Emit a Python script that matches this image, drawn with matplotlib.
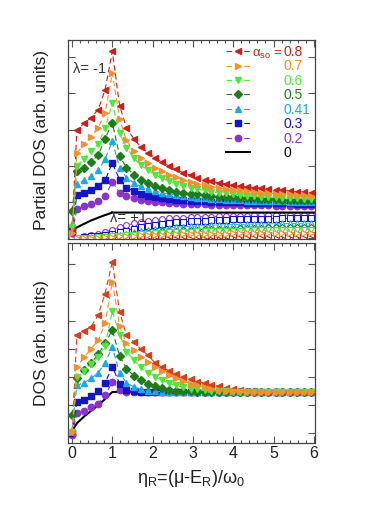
import matplotlib
matplotlib.use("Agg")
import matplotlib.pyplot as plt
from matplotlib.ticker import MultipleLocator

plt.rcParams["font.family"] = ["Liberation Sans", "DejaVu Sans"]
plt.rcParams["mathtext.fontset"] = "custom"
plt.rcParams["mathtext.rm"] = "Liberation Sans"
plt.rcParams["mathtext.it"] = "Liberation Sans"

# eta_R grid shared by all series
X = [0.0, 0.12, 0.30, 0.47, 0.65, 0.82, 1.00, 1.18, 1.35, 1.53, 1.70, 1.88,
     2.06, 2.23, 2.41, 2.58, 2.76, 2.94, 3.11, 3.29, 3.46, 3.64, 3.82, 3.99,
     4.17, 4.34, 4.52, 4.70, 4.87, 5.05, 5.22, 5.40, 5.58, 5.75, 5.93]

ALPHA_LABELS = ["0.8", "0.7", "0.6", "0.5", "0.41", "0.3", "0.2"]
COLORS = ["#c8201e", "#f39030", "#4ee83a", "#1d7d1d", "#1ea8e6", "#1414c8", "#8a34cc"]
COLORS_BOT = ["#d2401c", "#f39030", "#4ee83a", "#1d7d1d", "#1ea8e6", "#1414c8", "#8a34cc"]
MARKERS = ["<", ">", "v", "D", "^", "s", "o"]

# partial DOS, lambda = -1 branch
minus_08 = [0.22, 3.00, 3.17, 3.33, 3.55, 4.10, 5.16,
            3.66, 3.05, 2.75, 2.53, 2.36, 2.22, 2.10,
            1.99, 1.90, 1.81, 1.74, 1.67, 1.61, 1.57,
            1.53, 1.50, 1.47, 1.45, 1.42, 1.40, 1.38,
            1.36, 1.34, 1.32, 1.30, 1.28, 1.27, 1.25]
minus_07 = [0.15, 2.35, 2.60, 2.80, 3.05, 3.45, 4.56,
            3.30, 2.70, 2.42, 2.22, 2.07, 1.95, 1.85,
            1.76, 1.68, 1.61, 1.55, 1.50, 1.46, 1.42,
            1.39, 1.36, 1.34, 1.32, 1.30, 1.28, 1.26,
            1.25, 1.23, 1.22, 1.21, 1.20, 1.19, 1.18]
minus_06 = [0.30, 2.00, 2.20, 2.40, 2.60, 3.05, 3.72,
            2.90, 2.50, 2.22, 2.02, 1.88, 1.76, 1.66,
            1.58, 1.51, 1.45, 1.40, 1.36, 1.32, 1.29,
            1.26, 1.24, 1.22, 1.20, 1.18, 1.17, 1.15,
            1.14, 1.13, 1.12, 1.11, 1.10, 1.09, 1.09]
minus_05 = [0.75, 1.85, 1.95, 2.10, 2.30, 2.75, 3.19,
            2.27, 1.95, 1.76, 1.62, 1.52, 1.44, 1.38,
            1.33, 1.29, 1.26, 1.23, 1.21, 1.19, 1.17,
            1.15, 1.14, 1.13, 1.12, 1.11, 1.10, 1.09,
            1.08, 1.08, 1.07, 1.07, 1.06, 1.06, 1.05]
minus_041 = [0.40, 1.50, 1.60, 1.72, 1.88, 2.18, 2.68,
             1.95, 1.67, 1.53, 1.43, 1.36, 1.30, 1.26,
             1.22, 1.19, 1.16, 1.14, 1.12, 1.10, 1.09,
             1.08, 1.07, 1.06, 1.05, 1.04, 1.04, 1.03,
             1.03, 1.02, 1.02, 1.01, 1.01, 1.01, 1.00]
minus_03 = [0.20, 1.20, 1.25, 1.32, 1.45, 1.60, 2.08,
            1.62, 1.40, 1.30, 1.23, 1.18, 1.14, 1.11,
            1.09, 1.07, 1.05, 1.04, 1.03, 1.02, 1.01,
            1.00, 1.00, 0.99, 0.99, 0.98, 0.98, 0.98,
            0.97, 0.97, 0.97, 0.97, 0.96, 0.96, 0.96]
minus_02 = [0.15, 0.80, 0.88, 0.95, 1.02, 1.17, 1.55,
            1.26, 1.16, 1.10, 1.06, 1.03, 1.01, 0.99,
            0.98, 0.97, 0.96, 0.95, 0.94, 0.94, 0.93,
            0.93, 0.92, 0.92, 0.92, 0.91, 0.91, 0.91,
            0.91, 0.90, 0.90, 0.90, 0.90, 0.90, 0.90]

# partial DOS, lambda = +1 branch
plus_08 = [0.00, 0.00, 0.01, 0.01, 0.01, 0.02, 0.02,
           0.03, 0.03, 0.04, 0.04, 0.05, 0.05, 0.05,
           0.06, 0.06, 0.06, 0.06, 0.07, 0.07, 0.07,
           0.07, 0.07, 0.08, 0.08, 0.08, 0.08, 0.08,
           0.08, 0.08, 0.09, 0.09, 0.09, 0.09, 0.09]
plus_07 = [0.00, 0.01, 0.01, 0.02, 0.02, 0.03, 0.04,
           0.05, 0.06, 0.07, 0.08, 0.09, 0.10, 0.10,
           0.11, 0.11, 0.12, 0.12, 0.12, 0.13, 0.13,
           0.13, 0.13, 0.14, 0.14, 0.14, 0.14, 0.14,
           0.15, 0.15, 0.15, 0.15, 0.15, 0.15, 0.15]
plus_06 = [0.00, 0.01, 0.01, 0.02, 0.03, 0.04, 0.05,
           0.07, 0.08, 0.10, 0.11, 0.13, 0.14, 0.15,
           0.16, 0.17, 0.18, 0.18, 0.19, 0.19, 0.20,
           0.20, 0.21, 0.21, 0.21, 0.22, 0.22, 0.22,
           0.22, 0.23, 0.23, 0.23, 0.23, 0.24, 0.24]
plus_05 = [0.00, 0.01, 0.01, 0.02, 0.03, 0.04, 0.05,
           0.07, 0.09, 0.11, 0.13, 0.15, 0.17, 0.19,
           0.20, 0.21, 0.22, 0.23, 0.24, 0.25, 0.26,
           0.26, 0.27, 0.27, 0.28, 0.28, 0.29, 0.29,
           0.30, 0.30, 0.30, 0.31, 0.31, 0.31, 0.32]
plus_041 = [0.00, 0.01, 0.02, 0.03, 0.04, 0.06, 0.08,
            0.10, 0.13, 0.16, 0.19, 0.22, 0.25, 0.27,
            0.29, 0.31, 0.32, 0.33, 0.34, 0.35, 0.36,
            0.37, 0.37, 0.38, 0.38, 0.39, 0.39, 0.40,
            0.40, 0.40, 0.41, 0.41, 0.41, 0.42, 0.42]
plus_03 = [0.00, 0.01, 0.03, 0.05, 0.07, 0.10, 0.13,
           0.17, 0.21, 0.26, 0.30, 0.34, 0.37, 0.40,
           0.42, 0.44, 0.45, 0.47, 0.48, 0.49, 0.50,
           0.50, 0.51, 0.52, 0.52, 0.53, 0.53, 0.54,
           0.54, 0.54, 0.55, 0.55, 0.55, 0.56, 0.56]
plus_02 = [0.00, 0.02, 0.05, 0.09, 0.13, 0.18, 0.24,
           0.30, 0.36, 0.41, 0.45, 0.48, 0.51, 0.53,
           0.55, 0.56, 0.57, 0.58, 0.59, 0.60, 0.60,
           0.61, 0.61, 0.62, 0.62, 0.62, 0.63, 0.63,
           0.63, 0.64, 0.64, 0.64, 0.64, 0.65, 0.65]

# total DOS
total_08 = [0.00, 3.49, 3.62, 3.78, 4.20, 4.96, 6.09,
            4.31, 3.49, 3.25, 3.00, 2.78, 2.50, 2.35,
            2.22, 2.10, 2.00, 1.92, 1.84, 1.78, 1.72,
            1.67, 1.62, 1.58, 1.55, 1.52, 1.50, 1.48,
            1.47, 1.46, 1.46, 1.46, 1.46, 1.46, 1.46]
total_07 = [0.05, 2.36, 2.70, 3.00, 3.30, 3.90, 5.38,
            3.80, 3.20, 2.95, 2.72, 2.54, 2.36, 2.20,
            2.07, 1.95, 1.85, 1.77, 1.70, 1.64, 1.59,
            1.55, 1.52, 1.50, 1.49, 1.48, 1.47, 1.47,
            1.47, 1.47, 1.47, 1.47, 1.47, 1.47, 1.47]
total_06 = [0.05, 2.00, 2.20, 2.45, 2.70, 3.10, 4.33,
            3.50, 2.90, 2.60, 2.35, 2.15, 2.00, 1.88,
            1.78, 1.70, 1.64, 1.59, 1.56, 1.53, 1.51,
            1.50, 1.49, 1.48, 1.47, 1.47, 1.47, 1.47,
            1.47, 1.47, 1.47, 1.47, 1.47, 1.47, 1.47]
total_05 = [0.65, 1.95, 2.25, 2.50, 2.80, 3.20, 3.66,
            2.75, 2.30, 2.05, 1.88, 1.76, 1.67, 1.60,
            1.55, 1.52, 1.50, 1.49, 1.48, 1.47, 1.47,
            1.47, 1.47, 1.47, 1.47, 1.47, 1.47, 1.47,
            1.47, 1.47, 1.47, 1.47, 1.47, 1.47, 1.47]
total_041 = [0.10, 1.71, 1.80, 1.95, 2.15, 2.50, 3.07,
             2.13, 1.80, 1.65, 1.57, 1.52, 1.50, 1.48,
             1.47, 1.47, 1.47, 1.47, 1.47, 1.47, 1.47,
             1.47, 1.47, 1.47, 1.47, 1.47, 1.47, 1.47,
             1.47, 1.47, 1.47, 1.47, 1.47, 1.47, 1.47]
total_03 = [0.00, 1.12, 1.20, 1.32, 1.50, 1.80, 2.36,
            1.77, 1.53, 1.49, 1.48, 1.47, 1.47, 1.47,
            1.47, 1.47, 1.47, 1.47, 1.47, 1.47, 1.47,
            1.47, 1.47, 1.47, 1.47, 1.47, 1.47, 1.47,
            1.47, 1.47, 1.47, 1.47, 1.47, 1.47, 1.47]
total_02 = [-0.05, 0.71, 0.80, 0.92, 1.05, 1.35, 1.83,
            1.54, 1.48, 1.47, 1.47, 1.47, 1.47, 1.47,
            1.47, 1.47, 1.47, 1.47, 1.47, 1.47, 1.47,
            1.47, 1.47, 1.47, 1.47, 1.47, 1.47, 1.47,
            1.47, 1.47, 1.47, 1.47, 1.47, 1.47, 1.47]

# alpha_so = 0 reference curves
black_x_top = [0.0, 0.12, 0.30, 0.47, 0.65, 0.82, 1.00, 6.0]
black_top = [0.22, 0.30, 0.40, 0.49, 0.57, 0.64, 0.71, 0.71]
black_x_bot = [0.0, 0.05, 0.12, 0.30, 0.47, 0.65, 0.82, 1.00, 6.0]
black_bot = [-0.05, 0.20, 0.36, 0.60, 0.80, 1.00, 1.22, 1.47, 1.47]

MINUS = [minus_08, minus_07, minus_06, minus_05, minus_041, minus_03, minus_02]
PLUS = [plus_08, plus_07, plus_06, plus_05, plus_041, plus_03, plus_02]
TOTAL = [total_08, total_07, total_06, total_05, total_041, total_03, total_02]

# draw order (last is on top)
ORDER = [6, 5, 4, 3, 0, 2, 1]


def style_axes(ax):
    ax.set_xlim(-0.1, 6.03)
    ax.xaxis.set_major_locator(MultipleLocator(1))
    ax.xaxis.set_minor_locator(MultipleLocator(0.2))
    ax.yaxis.set_major_locator(MultipleLocator(1))
    ax.tick_params(which="both", direction="in", top=True, right=True,
                   color="#555555", width=0.8)
    ax.tick_params(which="major", length=5)
    ax.tick_params(which="minor", length=2.5)
    ax.tick_params(axis="y", labelleft=False)
    for s in ax.spines.values():
        s.set_color("#444444")
        s.set_linewidth(0.9)


def marker_size(m):
    return 3.6 if m == "D" else 4.6


fig = plt.figure(figsize=(3.66, 5.22), dpi=100)
ax_top = fig.add_axes([0.1858, 0.5421, 0.675, 0.3812])
ax_bot = fig.add_axes([0.1858, 0.1513, 0.675, 0.3831])

style_axes(ax_top)
style_axes(ax_bot)
ax_top.set_ylim(-0.02, 5.47)
ax_bot.set_ylim(-0.34, 6.75)
ax_top.tick_params(axis="x", labelbottom=False)
ax_bot.tick_params(axis="x", labelsize=11.5, pad=2.5, labelcolor="#222222")

# top panel
black_line, = ax_top.plot(black_x_top, black_top, color="black", lw=1.5, zorder=3)
handles = {}
for i in ORDER:
    ax_top.plot(X, PLUS[i], color=COLORS[i], lw=0.6, marker=MARKERS[i],
                ms=marker_size(MARKERS[i]) - 0.4, mfc="white", mec=COLORS[i],
                mew=0.8, zorder=2)
for i in ORDER:
    line, = ax_top.plot(X, MINUS[i], color=COLORS[i], lw=0.8, ls=(0, (5, 3)),
                        marker=MARKERS[i], ms=marker_size(MARKERS[i]),
                        mec=COLORS[i], zorder=4)
    handles[i] = line

ax_top.text(0.02, 4.67, "λ= -1", fontsize=10.5, color="#333333", va="center")
ax_top.text(0.93, 0.56, "λ= +1", fontsize=10.5, color="#333333", va="center")
ax_top.set_ylabel("Partial DOS (arb. units)", fontsize=12.5, color="#222222")
ax_top.yaxis.set_label_coords(-0.075, 0.5)

leg = ax_top.legend([handles[i] for i in range(7)] + [black_line],
                    ALPHA_LABELS + ["0"],
                    loc="upper left", bbox_to_anchor=(0.64, 0.975),
                    frameon=False, fontsize=10, handlelength=1.7,
                    handletextpad=2.4, labelspacing=0.03, borderpad=0,
                    borderaxespad=0)
for t, c in zip(leg.get_texts(), COLORS + ["black"]):
    t.set_color(c)
ax_top.annotate(r"$\alpha_{so}$ = ", xy=(0, 0.5), xycoords=leg.get_texts()[0],
                xytext=(0, -1.5), textcoords="offset points",
                ha="right", va="center", fontsize=9.5, color=COLORS[0],
                zorder=10)

# bottom panel
ax_bot.plot(black_x_bot, black_bot, color="black", lw=1.5, zorder=3)
for i in ORDER:
    ax_bot.plot(X, TOTAL[i], color=COLORS_BOT[i], lw=0.8, ls=(0, (5, 3)),
                marker=MARKERS[i], ms=marker_size(MARKERS[i]),
                mec=COLORS_BOT[i], zorder=4)

ax_bot.set_ylabel("DOS (arb. units)", fontsize=12.5, color="#222222")
ax_bot.yaxis.set_label_coords(-0.075, 0.5)
ax_bot.set_xlabel("η$_\\mathrm{R}$=(μ-E$_\\mathrm{R}$)/ω$_\\mathrm{0}$",
                  fontsize=13, color="#222222")
ax_bot.xaxis.set_label_coords(0.5, -0.125)

fig.savefig("out.png", dpi=100)
